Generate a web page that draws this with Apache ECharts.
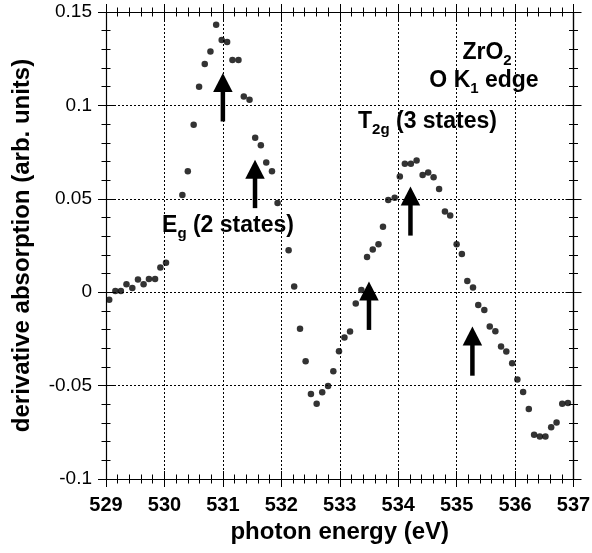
<!DOCTYPE html>
<html><head><meta charset="utf-8">
<script src="https://cdn.jsdelivr.net/npm/echarts@6/dist/echarts.min.js"></script>
<style>html,body{margin:0;padding:0;background:#fff}#c{width:592px;height:553px}</style>
</head><body><div id="c"></div>
<script>
// photon energy (eV) of each measured point
const energy = [
  529.055, 529.16, 529.255, 529.35, 529.45, 529.547, 529.643, 529.735, 529.84, 529.93, 530.027,
  530.307, 530.40, 530.50, 530.593, 530.69, 530.787, 530.885, 530.98, 531.073, 531.164, 531.267,
  531.358, 531.456, 531.553, 531.65, 531.742, 531.84, 531.936, 532.125, 532.22, 532.32, 532.416,
  532.507, 532.605, 532.70, 532.80, 532.89, 532.987, 533.08, 533.176, 533.274, 533.37, 533.467,
  533.565, 533.663, 533.74, 533.83, 533.94, 534.028, 534.114, 534.217, 534.315, 534.418, 534.513,
  534.606, 534.70, 534.80, 534.89, 535.0, 535.09, 535.183, 535.28, 535.37, 535.474, 535.567,
  535.663, 535.76, 535.85, 535.95, 536.04, 536.138, 536.235, 536.326, 536.424, 536.52, 536.618,
  536.71, 536.807, 536.905
];
// derivative absorption (arb. units)
const derivAbs = [
  -0.004, 0.0007, 0.0007, 0.0043, 0.0023, 0.0068, 0.0043, 0.0071, 0.0071, 0.0132, 0.0157,
  0.052, 0.0648, 0.0896, 0.110, 0.1221, 0.1289, 0.1432, 0.135, 0.1339, 0.1243, 0.1243,
  0.1048, 0.103, 0.0827, 0.0787, 0.0694, 0.0648, 0.0477, 0.0225, 0.003, -0.0195, -0.037,
  -0.0545, -0.0597, -0.0536, -0.0502, -0.0423, -0.0316, -0.0243, -0.0211, -0.0061, 0.0012, 0.0189,
  0.0228, 0.0257, 0.0351, 0.0494, 0.0505, 0.0619, 0.0687, 0.0687, 0.0705, 0.0627, 0.0641,
  0.0616, 0.0553, 0.0432, 0.041, 0.0257, 0.0205, 0.006, 0.0025, -0.0068, -0.0095, -0.0184,
  -0.0209, -0.0291, -0.0318, -0.038, -0.0468, -0.0534, -0.0625, -0.0763, -0.0773, -0.0772, -0.0723,
  -0.0698, -0.0597, -0.0593
];
// state arrows: energy, tail value, tip value
const arrowEnergy = [531.0, 531.55, 533.5, 534.21, 535.27];
const arrowBase = [0.0914, 0.045, -0.0202, 0.0303, -0.0447];
const arrowTip = [0.1173, 0.0709, 0.0057, 0.0566, -0.0184];
// axes
const xTicks = [529, 530, 531, 532, 533, 534, 535, 536, 537];
const yTicks = [-0.1, -0.05, 0, 0.05, 0.1, 0.15];
const yTickLabels = ['-0.1', '-0.05', '0', '0.05', '0.1', '0.15'];

const FONT = '"Liberation Sans", Arial, Helvetica, sans-serif';
const black = '#000';

function xAxisDef(position, inside, main) {
  return {
    type: 'value', position: position,
    min: xTicks[0], max: xTicks[xTicks.length - 1], interval: xTicks[1] - xTicks[0],
    axisLine: { show: main || position === 'top', onZero: false, lineStyle: { color: black, width: 1.2 } },
    axisTick: { show: true, inside: inside, length: 8, lineStyle: { color: black, width: 1 } },
    minorTick: { show: true, splitNumber: 5, length: 4.5, lineStyle: { color: black, width: 1 } },
    axisLabel: main ? { show: true, margin: 16, color: black, fontFamily: FONT, fontWeight: 'bold', fontSize: 20 } : { show: false },
    splitLine: { show: main, lineStyle: { color: black, type: [2, 2], width: 1 } },
    name: main ? 'photon energy (eV)' : '',
    nameLocation: 'middle', nameGap: 36,
    nameTextStyle: { color: black, fontFamily: FONT, fontWeight: 'bold', fontSize: 24 }
  };
}
function yAxisDef(position, inside, main) {
  return {
    type: 'value', position: position,
    min: yTicks[0], max: yTicks[yTicks.length - 1], interval: yTicks[1] - yTicks[0],
    axisLine: { show: main || position === 'right', onZero: false, lineStyle: { color: black, width: 1.2 } },
    axisTick: { show: true, inside: inside, length: 8, lineStyle: { color: black, width: 1 } },
    minorTick: { show: true, splitNumber: 5, length: 4.5, lineStyle: { color: black, width: 1 } },
    axisLabel: main ? {
      show: true, margin: 14, color: black, fontFamily: FONT, fontSize: 19,
      formatter: function (v) {
        for (let i = 0; i < yTicks.length; i++) if (Math.abs(v - yTicks[i]) < 1e-9) return yTickLabels[i];
        return '';
      }
    } : { show: false },
    splitLine: { show: main, lineStyle: { color: black, type: [2, 2], width: 1 } },
    name: main ? 'derivative absorption (arb. units)' : '',
    nameLocation: 'middle', nameGap: 72,
    nameTextStyle: { color: black, fontFamily: FONT, fontWeight: 'bold', fontSize: 24 }
  };
}

const rich = {
  a: { fontFamily: FONT, fontWeight: 'bold', fontSize: 23, color: black },
  s: { fontFamily: FONT, fontWeight: 'bold', fontSize: 15, color: black, padding: [16, 0, 0, 0] }
};
function label(x, y, text) {
  return {
    type: 'text', x: x, y: y,
    style: { text: text, rich: rich, align: 'center', verticalAlign: 'middle', fill: black }
  };
}

const chart = echarts.init(document.getElementById('c'), null, { renderer: 'canvas' });
chart.setOption({
  backgroundColor: '#fff',
  animation: false,
  grid: { left: 106, right: 18.5, top: 12, bottom: 74, containLabel: false, outerBoundsMode: 'none' },
  xAxis: [xAxisDef('bottom', false, true), xAxisDef('bottom', true, false), xAxisDef('top', false, false), xAxisDef('top', true, false)],
  yAxis: [yAxisDef('left', false, true), yAxisDef('left', true, false), yAxisDef('right', false, false), yAxisDef('right', true, false)],
  series: [
    {
      type: 'scatter', xAxisIndex: 0, yAxisIndex: 0,
      symbol: 'circle', symbolSize: 6.5,
      itemStyle: { color: black },
      data: energy.map((e, i) => [e, derivAbs[i]]),
      z: 5
    },
    {
      type: 'custom', xAxisIndex: 0, yAxisIndex: 0, clip: false, z: 4,
      data: arrowEnergy.map((e, i) => [e, arrowBase[i], arrowTip[i]]),
      encode: { x: 0, y: [1, 2] },
      renderItem: function (params, api) {
        const b = api.coord([api.value(0), api.value(1)]);
        const t = api.coord([api.value(0), api.value(2)]);
        const headH = 19, headW = 19.5, shaftW = 4.5;
        return {
          type: 'group', children: [
            { type: 'rect', shape: { x: b[0] - shaftW / 2, y: t[1] + headH - 1, width: shaftW, height: b[1] - (t[1] + headH - 1) }, style: { fill: black } },
            { type: 'polygon', shape: { points: [[t[0], t[1]], [t[0] - headW / 2, t[1] + headH], [t[0] + headW / 2, t[1] + headH]] }, style: { fill: black } }
          ]
        };
      }
    }
  ],
  graphic: [
    label(487, 53, '{a|ZrO}{s|2}'),
    label(484, 81, '{a|O K}{s|1}{a| edge}'),
    label(427.5, 122, '{a|T}{s|2g}{a| (3 states)}'),
    label(228, 226, '{a|E}{s|g}{a| (2 states)}')
  ]
});
</script>
</body></html>
